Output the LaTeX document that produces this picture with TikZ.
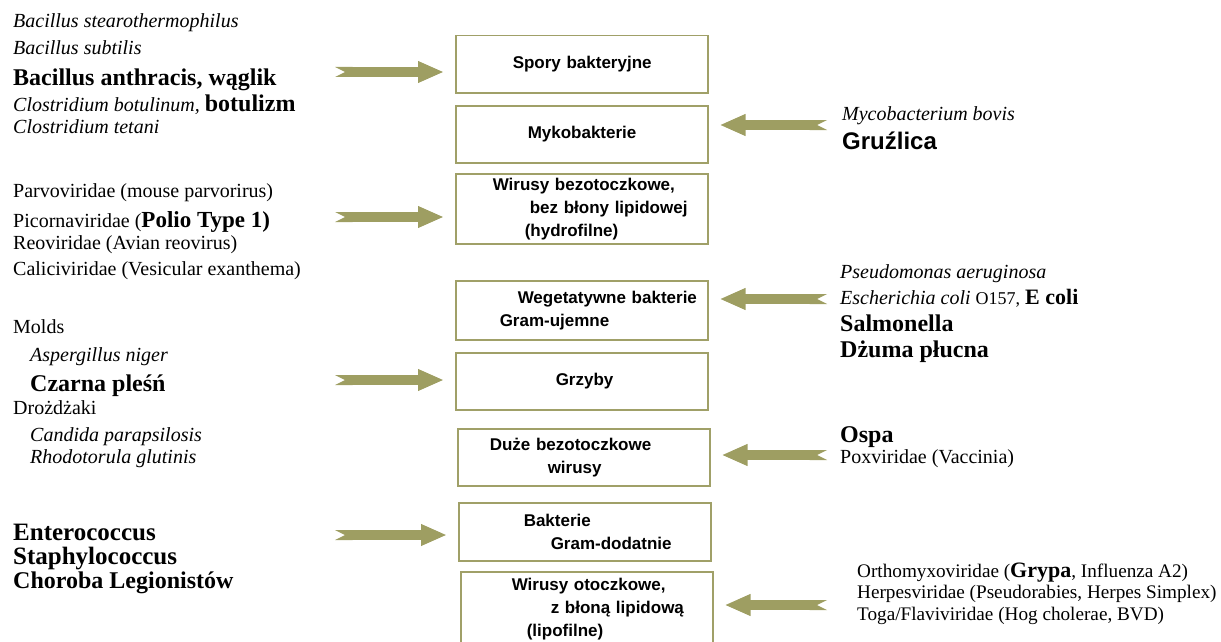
\documentclass[tikz,border=0pt]{standalone}
\usepackage{fontspec}
\setmainfont{Liberation Serif}
\newfontfamily\arialfont{Liberation Sans}
\usepackage{tikz}
\usetikzlibrary{arrows.meta}
\definecolor{olivearrow}{RGB}{158,158,98}
\definecolor{olivebox}{RGB}{160,160,104}
\newcommand\fs[1]{\fontsize{#1}{#1}\selectfont}

\begin{document}
\begin{tikzpicture}[
  x=1pt, y=-1pt,
  box/.style  = {rectangle, draw=olivebox, line width=1.5pt, anchor=north west,
                 minimum width=252pt, text width=232pt, inner xsep=10pt, inner ysep=0pt,
                 align=left, font=\arialfont\bfseries\fontsize{17}{23}\selectfont},
  txt/.style  = {anchor=base west, inner sep=0pt, font=\fs{20}},
  itxt/.style = {txt, font=\fs{20}\itshape},
  btxt/.style = {txt, font=\fs{24}\bfseries},
  gtxt/.style = {txt, font=\arialfont\bfseries\fs{24}},
  blk/.style  = {draw=olivearrow, line width=10pt,
                 {Triangle Cap[reversed,length=10pt]}-{Triangle[length=26pt,width=20pt]},
                 shorten >=11pt}
]
\useasboundingbox (0,0) rectangle (1221,642);

% boxes
\node[box, minimum height=57pt] (spory)   at (455,35)  {\hspace*{47pt}Spory bakteryjne};
\node[box, minimum height=57pt] (myko)    at (455,105) {\hspace*{62pt}Mykobakterie};
\node[box, minimum height=70pt] (hydro)   at (455,173) {\hspace*{27pt}\mbox{Wirusy bezotoczkowe,}\\\hspace*{64pt}\mbox{bez błony lipidowej}\\\hspace*{59pt}(hydrofilne)};
\node[box, minimum height=59pt] (gramneg) at (455,280) {\hspace*{52pt}\mbox{Wegetatywne bakterie}\\\hspace*{34pt}\mbox{Gram-ujemne}};
\node[box, minimum height=57pt] (grzyby)  at (455,352) {\hspace*{90pt}Grzyby};
\node[box, minimum height=57pt] (duze)    at (457,428) {\hspace*{22pt}\mbox{Duże bezotoczkowe}\\\hspace*{80pt}wirusy};
\node[box, minimum height=58pt] (grampos) at (458,502) {\hspace*{55pt}Bakterie\\\hspace*{82pt}\mbox{Gram-dodatnie}};
\node[box, minimum height=74pt] (lipo)    at (460,571) {\hspace*{41pt}\mbox{Wirusy otoczkowe,}\\\hspace*{80pt}\mbox{z błoną lipidową}\\\hspace*{56pt}(lipofilne)};

% left column
\node[itxt] (bstear)  at (13,28)  {Bacillus stearothermophilus};
\node[itxt] (bsubt)   at (13,55)  {Bacillus subtilis};
\node[btxt] (banth)   at (13,85)  {Bacillus anthracis, wąglik};
\node[itxt] (cbotu)   at (13,111) {Clostridium botulinum, {\upshape\bfseries\fs{24}botulizm}};
\node[itxt] (cteta)   at (13,133) {Clostridium tetani};
\node[txt]  (parvo)   at (13,197) {Parvoviridae (mouse parvorirus)};
\node[txt]  (picorna) at (13,227) {Picornaviridae ({\bfseries\fs{23}Polio Type 1)}};
\node[txt]  (reo)     at (13,249) {Reoviridae (Avian reovirus)};
\node[txt]  (calici)  at (13,275) {Caliciviridae (Vesicular exanthema)};
\node[txt]  (molds)   at (13,333) {Molds};
\node[itxt] (asper)   at (30,361) {Aspergillus niger};
\node[btxt] (czarna)  at (30,391) {Czarna pleśń};
\node[txt]  (drozdz)  at (13,414) {Drożdżaki};
\node[itxt] (candida) at (30,441) {Candida parapsilosis};
\node[itxt] (rhodo)   at (30,463) {Rhodotorula glutinis};
\node[btxt, font=\fs{25}\bfseries] (entero) at (13,540) {Enterococcus};
\node[btxt, font=\fs{25}\bfseries] (staph)  at (13,564) {Staphylococcus};
\node[btxt] (legion)  at (13,588) {Choroba Legionistów};

% right column
\node[itxt] (mbovis)  at (842,121) {Mycobacterium bovis};
\node[gtxt] (gruz)    at (842,149) {Gruźlica};
\node[itxt] (pseudo)  at (840,278) {Pseudomonas aeruginosa};
\node[itxt] (ecoli)   at (840,304) {Escherichia coli {\upshape\fs{18}O157,} {\upshape\bfseries\fs{22}E coli}};
\node[btxt] (salm)    at (840,331) {Salmonella};
\node[btxt] (dzuma)   at (840,357) {Dżuma płucna};
\node[btxt] (ospa)    at (840,442) {Ospa};
\node[txt]  (pox)     at (840,463) {Poxviridae (Vaccinia)};
\node[txt, font=\fs{19.2}] (ortho)  at (857,577) {Orthomyxoviridae ({\bfseries\fs{22}Grypa}, Influenza A2)};
\node[txt, font=\fs{19.2}] (herpes) at (857,598) {Herpesviridae (Pseudorabies, Herpes Simplex)};
\node[txt, font=\fs{19.2}] (toga)   at (857,620) {Toga/Flaviviridae (Hog cholerae, BVD)};

% arrows
\coordinate (tl1) at (335,72);
\coordinate (tl2) at (335,217);
\coordinate (tl3) at (335,380);
\coordinate (tl4) at (335,535);
\coordinate (tr1) at (827,125);
\coordinate (tr2) at (827,299);
\coordinate (tr3) at (827,455);
\coordinate (tr4) at (827,605);
\draw[blk] (tl1) -- (tl1 -| spory.west);
\draw[blk] (tl2) -- (tl2 -| hydro.west);
\draw[blk] (tl3) -- (tl3 -| grzyby.west);
\draw[blk] (tl4) -- (tl4 -| grampos.west);
\draw[blk] (tr1) -- (tr1 -| myko.east);
\draw[blk] (tr2) -- (tr2 -| gramneg.east);
\draw[blk] (tr3) -- (tr3 -| duze.east);
\draw[blk] (tr4) -- (tr4 -| lipo.east);
\end{tikzpicture}
\end{document}
